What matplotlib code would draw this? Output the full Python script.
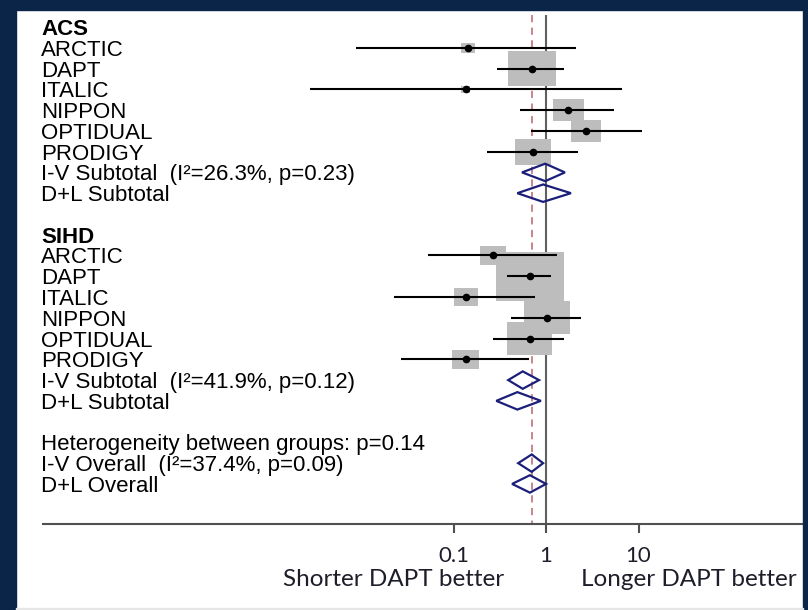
import matplotlib
matplotlib.use("Agg")
import matplotlib.pyplot as plt
import numpy as np
from matplotlib.path import Path
from matplotlib.patches import Polygon, Rectangle
from matplotlib.transforms import blended_transform_factory

# odds ratios per trial (estimate, lower, upper) and weights in %
studies = ["ARCTIC", "DAPT", "ITALIC", "NIPPON", "OPTIDUAL", "PRODIGY"]

acs_est = [0.144, 0.71, 0.136, 1.73, 2.71, 0.72]
acs_lo = [0.0088, 0.295, 0.0028, 0.52, 0.69, 0.23]
acs_hi = [2.11, 1.57, 6.63, 5.43, 10.9, 2.22]
acs_wt = [1.2, 13.9, 0.5, 5.8, 5.4, 7.8]

sihd_est = [0.267, 0.67, 0.136, 1.02, 0.67, 0.136]
sihd_lo = [0.053, 0.38, 0.023, 0.42, 0.27, 0.027]
sihd_hi = [1.31, 1.13, 0.76, 2.39, 1.57, 0.65]
sihd_wt = [4.4, 28.0, 3.5, 12.8, 12.2, 4.4]

# pooled estimates (estimate, lower, upper)
acs_iv = [0.98, 0.55, 1.60]
acs_dl = [0.93, 0.49, 1.86]
sihd_iv = [0.56, 0.39, 0.84]
sihd_dl = [0.49, 0.29, 0.88]
overall_iv = [0.70, 0.50, 0.93]
overall_dl = [0.67, 0.43, 1.00]

acs_iv_label = "I-V Subtotal  (I²=26.3%, p=0.23)"
sihd_iv_label = "I-V Subtotal  (I²=41.9%, p=0.12)"
dl_sub_label = "D+L Subtotal"
het_label = "Heterogeneity between groups: p=0.14"
overall_iv_label = "I-V Overall  (I²=37.4%, p=0.09)"
overall_dl_label = "D+L Overall"

tick_vals = [0.1, 1, 10]
tick_labels = ["0.1", "1", "10"]

W, H = 808, 610
fig = plt.figure(figsize=(W / 100, H / 100), dpi=100)
fig.patch.set_facecolor("white")

ax = fig.add_axes([43 / W, 1 - 524 / H, 760 / W, (524 - 15) / H])
ax.set_xscale("log")
ax.set_xlim(10 ** -5.438, 10 ** 2.778)
ax.set_ylim(23.93, -0.58)
for s in ["top", "left", "right"]:
    ax.spines[s].set_visible(False)
ax.spines["bottom"].set_color("#505050")
ax.spines["bottom"].set_linewidth(1.5)
ax.set_yticks([])
ax.set_xticks(tick_vals)
ax.set_xticklabels(tick_labels)
ax.xaxis.set_minor_locator(matplotlib.ticker.NullLocator())
ax.tick_params(axis="x", direction="out", length=6.5, width=1.5, color="#505050",
               pad=9, labelsize=16, labelcolor="#1e1e2a")
for t in ax.get_xticklabels():
    t.set_family("Lato")

label_tr = blended_transform_factory(fig.transFigure, ax.transData)
TXT = dict(family="Liberation Sans", fontsize=16, color="black",
           va="center_baseline", transform=label_tr)
LX = 41 / W

# rectangular box marker, wider than tall
box = Path([(-1, -0.72), (1, -0.72), (1, 0.72), (-1, 0.72), (-1, -0.72)],
           [Path.MOVETO, Path.LINETO, Path.LINETO, Path.LINETO, Path.CLOSEPOLY])


def draw_diamond(row, vals, h=0.42):
    est, lo, hi = vals
    ax.add_patch(Polygon([(lo, row), (est, row - h), (hi, row), (est, row + h)],
                         closed=True, fill=False, edgecolor="#1b1f7a", lw=1.6,
                         zorder=4))


def draw_group(start, name, est, lo, hi, wt, iv, dl, iv_label):
    ax.text(LX, start, name, fontweight="bold", **TXT)
    rows = np.arange(start + 1, start + 1 + len(studies))
    for r, lab in zip(rows, studies):
        ax.text(LX, r, lab, **TXT)
    side = [(12.85 * np.sqrt(w) * 0.72) ** 2 for w in wt]
    ax.scatter(est, rows, s=side, marker=box, color="#bdbdbd", linewidths=0,
               zorder=2)
    ax.hlines(rows, lo, hi, color="black", lw=1.5, zorder=3)
    ax.plot(est, rows, "o", color="black", ms=4.5, zorder=3)
    r_iv = start + 1 + len(studies)
    ax.text(LX, r_iv, iv_label, **TXT)
    draw_diamond(r_iv, iv)
    ax.text(LX, r_iv + 1, dl_sub_label, **TXT)
    draw_diamond(r_iv + 1, dl)


draw_group(0, "ACS", acs_est, acs_lo, acs_hi, acs_wt, acs_iv, acs_dl, acs_iv_label)
draw_group(10, "SIHD", sihd_est, sihd_lo, sihd_hi, sihd_wt, sihd_iv, sihd_dl,
           sihd_iv_label)

ax.text(LX, 20, het_label, **TXT)
ax.text(LX, 21, overall_iv_label, **TXT)
draw_diamond(21, overall_iv)
ax.text(LX, 22, overall_dl_label, **TXT)
draw_diamond(22, overall_dl)

# null line and overall estimate line
ax.vlines(1, -0.58, 23.93, color="#606060", lw=1.5, zorder=1)
ax.vlines(overall_iv[0], -0.58, 23.93, color="#c47b82", lw=1.3,
          linestyles=(0, (4, 3)), zorder=1)

fig.text(394 / W, 1 - 579 / H, "Shorter DAPT better", family="Lato", fontsize=17.5,
         color="#1e1e2a", ha="center", va="center")
fig.text(581 / W, 1 - 579 / H, "Longer DAPT better", family="Lato", fontsize=17.5,
         color="#1e1e2a", ha="left", va="center")

# slide frame
navy = "#0b2548"
for x0, y0, w, h in [(0, 0, 16, H), (0, 0, W, 10), (803, 0, 5, H)]:
    fig.add_artist(Rectangle((x0 / W, 1 - (y0 + h) / H), w / W, h / H,
                             transform=fig.transFigure, color=navy, zorder=20))
fig.add_artist(Rectangle((16 / W, 0), (803 - 16) / W, 2 / H,
                         transform=fig.transFigure, color="#e6e6e6", zorder=20))

fig.savefig("out.png", dpi=100)
